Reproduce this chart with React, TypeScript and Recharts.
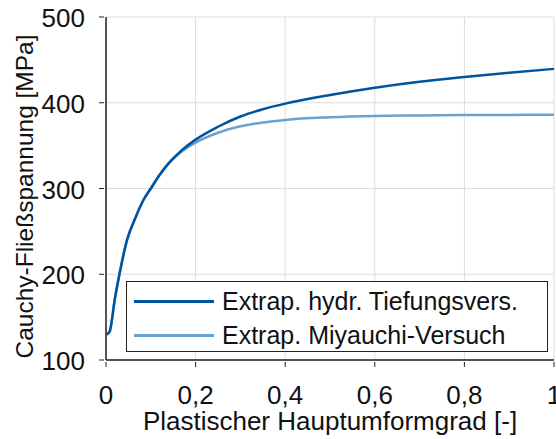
import React from "react";
import { LineChart, Line, XAxis, YAxis, CartesianGrid, Label } from "recharts";

// plastic strain values
const strain = [
  0.002, 0.008, 0.02, 0.03, 0.047, 0.065, 0.083, 0.1, 0.12, 0.136, 0.15, 0.17,
  0.2, 0.25, 0.3, 0.35, 0.4, 0.5, 0.6, 0.7, 0.8, 0.9, 1.0,
];

// flow stress, hydraulic bulge test extrapolation
const hydrBulge = [
  130, 133, 172, 200, 240, 265, 286, 300, 316, 327, 335, 345, 357, 372, 384,
  392.5, 399, 409, 417.5, 424.5, 430, 435, 439.5,
];

// flow stress, Miyauchi test extrapolation
const miyauchi = [
  130, 133, 172, 200, 240, 265, 286, 300, 316, 327, 334.5, 343.5, 353.5, 365,
  372.5, 377, 380, 383, 384.6, 385.2, 385.6, 385.8, 386,
];

const xTicks = [0, 0.2, 0.4, 0.6, 0.8, 1];
const yTicks = [100, 200, 300, 400, 500];

const seriesNames = ["Extrap. hydr. Tiefungsvers.", "Extrap. Miyauchi-Versuch"];
const COLORS = ["#00549F", "#6AA2CF"];

const FONT = "'Liberation Sans', Arial, sans-serif";
const FS = 26;

const data = strain.map((x, i) => ({
  x,
  hydr: hydrBulge[i],
  miya: miyauchi[i],
}));

const fmt = (v: number) => String(v).replace(".", ",");

// ticks point into the plot area, like the MATLAB default
const XTick = ({ x, y, payload }: any) => (
  <g>
    <line x1={x} x2={x} y1={y - 1} y2={y - 6} stroke="#222" strokeWidth={1} />
    <text
      x={x}
      y={y + 36}
      textAnchor="middle"
      fontSize={FS}
      fontFamily={FONT}
      fill="#111"
    >
      {fmt(payload.value)}
    </text>
  </g>
);

const YTick = ({ x, y, payload }: any) => (
  <g>
    <line x1={x + 1} x2={x + 6} y1={y} y2={y} stroke="#222" strokeWidth={1} />
    <text
      x={x - 13}
      y={y + 10}
      textAnchor="end"
      fontSize={FS}
      fontFamily={FONT}
      fill="#111"
    >
      {payload.value}
    </text>
  </g>
);

// axis titles placed relative to the axis viewBox
const XTitle = ({ viewBox }: any) => (
  <text
    x={viewBox.x + viewBox.width / 2}
    y={viewBox.y + 70}
    textAnchor="middle"
    fontSize={FS}
    fontFamily={FONT}
    fill="#111"
  >
    Plastischer Hauptumformgrad [-]
  </text>
);

const YTitle = ({ viewBox }: any) => {
  const cx = 33;
  const cy = viewBox.y + viewBox.height / 2 + 8;
  return (
    <text
      x={cx}
      y={cy}
      transform={`rotate(-90, ${cx}, ${cy})`}
      textAnchor="middle"
      fontSize={24.5}
      fontFamily={FONT}
      fill="#111"
    >
      Cauchy-Fließspannung [MPa]
    </text>
  );
};

const LegendBox = () => (
  <div
    style={{
      position: "absolute",
      left: 126,
      top: 281,
      width: 422,
      height: 71,
      border: "1px solid #222",
      background: "#fff",
      fontFamily: FONT,
      fontSize: 25,
      color: "#111",
      boxSizing: "border-box",
      paddingTop: 2,
    }}
  >
    {seriesNames.map((name, i) => (
      <div
        key={name}
        style={{ display: "flex", alignItems: "center", height: 34 }}
      >
        <div
          style={{
            width: 80,
            height: 3,
            background: COLORS[i],
            marginLeft: 7,
            marginRight: 8,
          }}
        />
        <span>{name}</span>
      </div>
    ))}
  </div>
);

export default function App() {
  return (
    <div
      style={{
        position: "absolute",
        left: 0,
        top: 0,
        width: 556,
        height: 439,
        background: "#fff",
      }}
    >
      <LineChart
        width={556}
        height={439}
        data={data}
        margin={{ top: 17, right: 2, left: 0, bottom: 0 }}
      >
        <CartesianGrid stroke="#dcdcdc" strokeWidth={1} />
        <XAxis
          dataKey="x"
          type="number"
          domain={[0, 1]}
          ticks={xTicks}
          height={79}
          axisLine={{ stroke: "#222", strokeWidth: 1.5 }}
          tickLine={false}
          tick={<XTick />}
          interval={0}
        >
          <Label content={<XTitle />} />
        </XAxis>
        <YAxis
          type="number"
          domain={[100, 500]}
          ticks={yTicks}
          width={106}
          axisLine={{ stroke: "#222", strokeWidth: 1.5 }}
          tickLine={false}
          tick={<YTick />}
          interval={0}
        >
          <Label content={<YTitle />} />
        </YAxis>
        <Line
          type="monotone"
          dataKey="miya"
          stroke={COLORS[1]}
          strokeWidth={2.5}
          dot={false}
          isAnimationActive={false}
        />
        <Line
          type="monotone"
          dataKey="hydr"
          stroke={COLORS[0]}
          strokeWidth={2.5}
          dot={false}
          isAnimationActive={false}
        />
      </LineChart>
      <LegendBox />
    </div>
  );
}
